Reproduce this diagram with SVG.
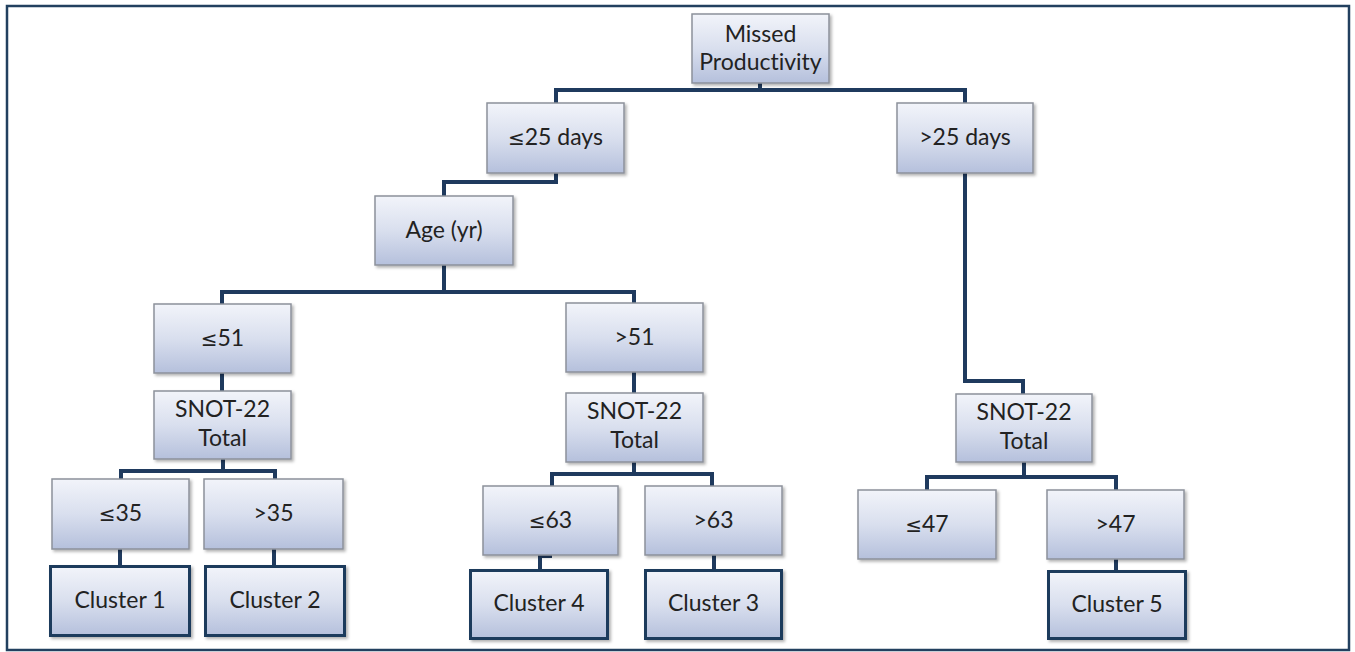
<svg xmlns="http://www.w3.org/2000/svg" width="1355" height="652" viewBox="0 0 1355 652">
<defs>
<linearGradient id="g" x1="0" y1="0" x2="0" y2="1">
<stop offset="0" stop-color="#f2f4fa"/>
<stop offset="0.5" stop-color="#d9dfee"/>
<stop offset="1" stop-color="#b5c0dc"/>
</linearGradient>
<filter id="sh" x="-10%" y="-10%" width="125%" height="130%">
<feDropShadow dx="2" dy="2" stdDeviation="1.5" flood-color="#000" flood-opacity="0.3"/>
</filter>
</defs>
<style>
.box{fill:url(#g);stroke:#8c919b;stroke-width:1.5;filter:url(#sh)}
.cl{fill:url(#g);stroke:#1e3a5c;stroke-width:3;filter:url(#sh)}
.t{font-family:Lato,"Liberation Sans",sans-serif;font-size:23px;fill:#222;text-anchor:middle;font-variant-ligatures:none}
.le{font-family:"DejaVu Sans",sans-serif;font-size:20px}
.c{fill:none;stroke:#1f3a5e;stroke-width:4;stroke-linejoin:miter;stroke-linecap:square}
</style>
<rect x="7" y="6" width="1342" height="644" fill="#fff" stroke="#22405f" stroke-width="2.5"/>
<g id="connectors">
<path class="c" d="M760 83V90M556 101V90H965V101"/>
<path class="c" d="M556 175V182H444V194"/>
<path class="c" d="M444 267V292M222 302V292H634V301"/>
<path class="c" d="M965 175V381H1023V392"/>
<path class="c" d="M222 375V389"/>
<path class="c" d="M634 374V391"/>
<path class="c" d="M223 461V471M121 477V471H275V477"/>
<path class="c" d="M634 464V474M552 484V474H712V484"/>
<path class="c" d="M1024 464V477M927 488V477H1116V488"/>
<path class="c" d="M120 551V563"/>
<path class="c" d="M274 551V563"/>
<path class="c" d="M550 556H540V568"/>
<path class="c" d="M714 557V568"/>
<path class="c" d="M1116 561V569"/>
</g>
<g id="n-missed"><rect class="box" x="692" y="14" width="137" height="69"/><text class="t" x="760.5" y="41.5">Missed</text><text class="t" x="760.5" y="70">Productivity</text></g>
<g id="n-le25"><rect class="box" x="487" y="103" width="137" height="70"/><text class="t" x="555.5" y="145"><tspan class="le">≤</tspan>25 days</text></g>
<g id="n-gt25"><rect class="box" x="897" y="103" width="136" height="70"/><text class="t" x="965" y="145">&gt;25 days</text></g>
<g id="n-age"><rect class="box" x="375" y="196" width="138" height="69"/><text class="t" x="444" y="238">Age (yr)</text></g>
<g id="n-le51"><rect class="box" x="154" y="304" width="137" height="69"/><text class="t" x="222.5" y="346"><tspan class="le">≤</tspan>51</text></g>
<g id="n-gt51"><rect class="box" x="566" y="303" width="137" height="69"/><text class="t" x="634.5" y="345">&gt;51</text></g>
<g id="n-snotL"><rect class="box" x="154" y="391" width="137" height="68"/><text class="t" x="222.5" y="417">SNOT-22</text><text class="t" x="222.5" y="446">Total</text></g>
<g id="n-snotM"><rect class="box" x="566" y="393" width="137" height="69"/><text class="t" x="634.5" y="419">SNOT-22</text><text class="t" x="634.5" y="448">Total</text></g>
<g id="n-snotR"><rect class="box" x="956" y="394" width="136" height="68"/><text class="t" x="1024" y="420">SNOT-22</text><text class="t" x="1024" y="449">Total</text></g>
<g id="n-le35"><rect class="box" x="52" y="479" width="137" height="70"/><text class="t" x="120.5" y="521"><tspan class="le">≤</tspan>35</text></g>
<g id="n-gt35"><rect class="box" x="204" y="479" width="139" height="70"/><text class="t" x="273.5" y="521">&gt;35</text></g>
<g id="n-le63"><rect class="box" x="483" y="486" width="135" height="69"/><text class="t" x="550.5" y="528"><tspan class="le">≤</tspan>63</text></g>
<g id="n-gt63"><rect class="box" x="645" y="486" width="137" height="69"/><text class="t" x="713.5" y="528">&gt;63</text></g>
<g id="n-le47"><rect class="box" x="858" y="490" width="138" height="69"/><text class="t" x="927" y="532"><tspan class="le">≤</tspan>47</text></g>
<g id="n-gt47"><rect class="box" x="1047" y="490" width="137" height="69"/><text class="t" x="1115.5" y="532">&gt;47</text></g>
<g id="n-c1"><rect class="cl" x="50.5" y="566.5" width="139" height="69"/><text class="t" x="120" y="608">Cluster 1</text></g>
<g id="n-c2"><rect class="cl" x="205.5" y="566.5" width="139" height="69"/><text class="t" x="275" y="608">Cluster 2</text></g>
<g id="n-c4"><rect class="cl" x="470.5" y="570.5" width="137" height="68"/><text class="t" x="539" y="611">Cluster 4</text></g>
<g id="n-c3"><rect class="cl" x="645.5" y="570.5" width="136" height="68"/><text class="t" x="713.5" y="611">Cluster 3</text></g>
<g id="n-c5"><rect class="cl" x="1048.5" y="571.5" width="137" height="67"/><text class="t" x="1117" y="612">Cluster 5</text></g>
</svg>
